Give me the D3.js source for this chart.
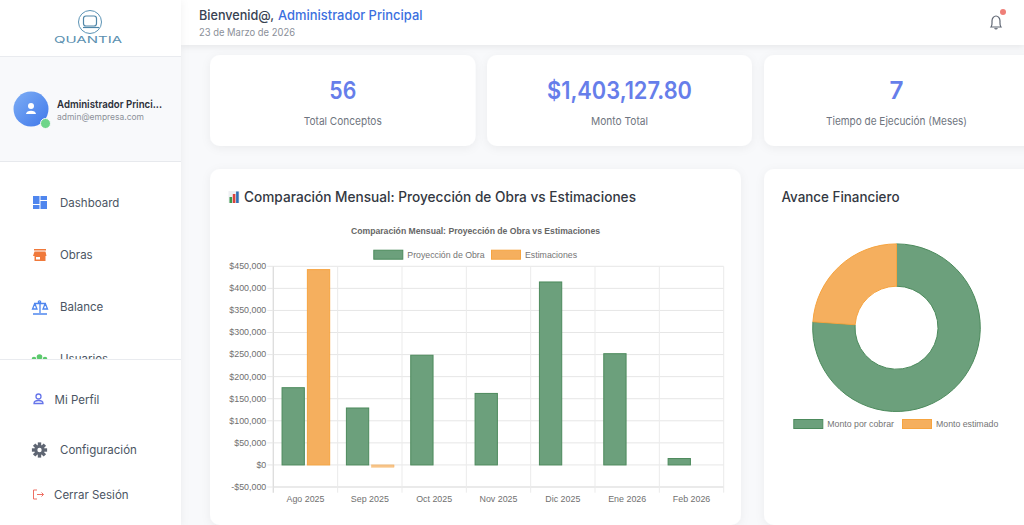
<!DOCTYPE html>
<html><head><meta charset="utf-8">
<script src="https://cdn.jsdelivr.net/npm/d3@7/dist/d3.min.js"></script>
<style>
html,body{margin:0;padding:0;width:1024px;height:525px;overflow:hidden;background:#f8f9fb}
svg{display:block}
text{font-family:Inter,"Noto Sans",sans-serif}
.cj text{font-family:"Liberation Sans",Arial,sans-serif}
</style></head><body>
<script>
const months=["Ago 2025","Sep 2025","Oct 2025","Nov 2025","Dic 2025","Ene 2026","Feb 2026"];
const seriesNames=["Proyección de Obra","Estimaciones"];
const proyeccion=[175000,129000,248500,162000,414500,252000,14500];
const estimaciones=[442500,-5000,null,null,null,null,null];
const yTicks=[-50000,0,50000,100000,150000,200000,250000,300000,350000,400000,450000];
const donutLabels=["Monto por cobrar","Monto estimado"];
const donutValues=[1403127.80,440000];
const statValues=["56","$1,403,127.80","7"];
const statLabels=["Total Conceptos","Monto Total","Tiempo de Ejecución (Meses)"];
const navItems=["Dashboard","Obras","Balance","Usuarios"];
const chartTitle="Comparación Mensual: Proyección de Obra vs Estimaciones";

const GREEN_F="#6ca07c",GREEN_S="#4c8a5c",ORANGE_F="#f5af5e",ORANGE_S="#f6a440";
const svg=d3.select("body").append("svg").attr("width",1024).attr("height",525);
const defs=svg.append("defs");
const sh=(id,dy,sd,op)=>{const f=defs.append("filter").attr("id",id).attr("x","-20%").attr("y","-30%").attr("width","140%").attr("height","170%");
 f.append("feDropShadow").attr("dx",0).attr("dy",dy).attr("stdDeviation",sd).attr("flood-color","#000").attr("flood-opacity",op);};
sh("card",2,5,.055);sh("hdr",2,3,.07);sh("side",1,4,.06);
const g=defs.append("linearGradient").attr("id","av").attr("x1",0).attr("y1",0).attr("x2",1).attr("y2",1);
g.append("stop").attr("offset",0).attr("stop-color","#7eaef5");g.append("stop").attr("offset",1).attr("stop-color","#3f78ea");

function T(p,x,y,s,size,fill,o={}){
 const t=p.append("text").attr("x",x).attr("y",y).attr("font-size",size).attr("fill",fill).text(s);
 if(o.anchor)t.attr("text-anchor",o.anchor);
 if(o.weight)t.attr("font-weight",o.weight);
 if(o.len)t.attr("textLength",o.len).attr("lengthAdjust","spacingAndGlyphs");
 return t;
}
svg.append("rect").attr("width",1024).attr("height",525).attr("fill","#f8f9fb");

// cards
const card=(x,y,w,h)=>svg.append("rect").attr("x",x).attr("y",y).attr("width",w).attr("height",h).attr("rx",10).attr("fill","#fff").attr("filter","url(#card)");
const statCards=[[210,265.5],[487,265],[764,290]];
const statLen=[27,145,14],labelLen=[78,57,141];
statCards.forEach((c,i)=>{card(c[0],55,c[1],91);
 const cx=i==2?896.5:c[0]+c[1]/2;
 T(svg,cx,99,statValues[i],24,"#667eea",{anchor:"middle",weight:600,len:statLen[i]});
 T(svg,cx,125,statLabels[i],11,"#6f7580",{anchor:"middle",len:labelLen[i]});
});
card(210,169,531,356);card(764,169,300,356);

// header
svg.append("rect").attr("x",181).attr("y",0).attr("width",843).attr("height",45).attr("fill","#fff").attr("filter","url(#hdr)");
T(svg,199,20,"Bienvenid@,",13,"#374151",{weight:500,len:75});
T(svg,278,20,"Administrador Principal",13,"#3b6fe0",{weight:500,len:144.5});
T(svg,199,36,"23 de Marzo de 2026",10,"#8b9099",{len:96});
const bell=svg.append("g").attr("transform","translate(996,22)");
bell.append("path").attr("d","M-5,5 C-3.5,3 -4,1 -4,-1 C-4,-4 -2,-6 0,-6 C2,-6 4,-4 4,-1 C4,1 3.5,3 5,5 Z").attr("fill","none").attr("stroke","#5f6673").attr("stroke-width",1.2);
bell.append("path").attr("d","M-1.3,6 A1.4,1.4 0 0 0 1.3,6").attr("fill","none").attr("stroke","#5f6673").attr("stroke-width",1.1);
svg.append("circle").attr("cx",1003).attr("cy",12).attr("r",3).attr("fill","#ef7f78");

// sidebar
svg.append("rect").attr("width",181).attr("height",525).attr("fill","#fff").attr("filter","url(#side)");
svg.append("rect").attr("y",57).attr("width",181).attr("height",104).attr("fill","#f8f9fb");
svg.append("line").attr("x1",0).attr("x2",181).attr("y1",56.5).attr("y2",56.5).attr("stroke","#e9ebef");
svg.append("line").attr("x1",0).attr("x2",181).attr("y1",161.5).attr("y2",161.5).attr("stroke","#e7e9ed");
const logo=svg.append("g");
logo.append("circle").attr("cx",90).attr("cy",22).attr("r",11.5).attr("fill","none").attr("stroke","#5b93b5").attr("stroke-width",1);
logo.append("rect").attr("x",83.5).attr("y",16).attr("width",13).attr("height",10).attr("rx",2.5).attr("fill","none").attr("stroke","#4f86a8").attr("stroke-width",1.2);
logo.append("path").attr("d","M83,27.5 H99").attr("stroke","#4f86a8").attr("stroke-width",1.2);
T(logo,88,43,"QUANTIA",8.5,"#5a8fb0",{anchor:"middle",len:68});
svg.append("circle").attr("cx",31).attr("cy",109).attr("r",17.5).attr("fill","url(#av)");
svg.append("circle").attr("cx",31).attr("cy",106).attr("r",3).attr("fill","#fff");
svg.append("path").attr("d","M26,114 C26,109.5 36,109.5 36,114 Z").attr("fill","#fff");
svg.append("circle").attr("cx",45.5).attr("cy",123.5).attr("r",5).attr("fill","#6fd58a").attr("stroke","#f8f9fb").attr("stroke-width",1);
T(svg,57,108,"Administrador Princi...",11,"#2b2f38",{weight:600,len:105});
T(svg,57,120,"admin@empresa.com",9,"#8b9099",{len:87});
const navY=[207,259,311,363];
navItems.forEach((t,i)=>T(svg,60,navY[i],t,11.5,"#4b5563"));
// nav icons
const db=svg.append("g").attr("fill","#4f86ee");
[[33,196,6.5,8],[40.5,196,6.5,4],[33,205,6.5,4],[40.5,201,6.5,8]].forEach(r=>db.append("rect").attr("x",r[0]).attr("y",r[1]).attr("width",r[2]).attr("height",r[3]));
const ob=svg.append("g").attr("fill","#f0793b");
ob.append("rect").attr("x",34).attr("y",249).attr("width",12).attr("height",1.5);
ob.append("path").attr("d","M34.5,251.5 H45.5 L46.5,256 H45.5 V261 H34.5 V256 H33 Z");
ob.append("rect").attr("x",36).attr("y",257).attr("width",4).attr("height",2.5).attr("fill","#fff");
const ba=svg.append("g").attr("fill","none").attr("stroke","#4f86ee").attr("stroke-width",1.3);
ba.append("path").attr("d","M40,302 V313 M33,314 H47 M34,303.5 H46 M34.5,304 L32.5,309 H37 L35,304 M45,304 L43,309 H47.5 L45.5,304");
ba.append("circle").attr("cx",39.5).attr("cy",302).attr("r",1.2);
const us=svg.append("g").attr("fill","#5bc96d");
[[34,359,2.3],[39.5,357,2.8],[45,359,2.3]].forEach(c=>us.append("circle").attr("cx",c[0]).attr("cy",c[1]).attr("r",c[2]));
// bottom section
svg.append("rect").attr("y",360).attr("width",181).attr("height",165).attr("fill","#fff");
svg.append("line").attr("x1",0).attr("x2",181).attr("y1",359.5).attr("y2",359.5).attr("stroke","#e9ebef");
T(svg,54.5,404,"Mi Perfil",11.5,"#4b5563");
T(svg,60,454,"Configuración",11.5,"#4b5563");
T(svg,54,499,"Cerrar Sesión",11.5,"#4b5563");
const pf=svg.append("g").attr("fill","none").attr("stroke","#6675ea").attr("stroke-width",1.3);
pf.append("circle").attr("cx",38.5).attr("cy",396.5).attr("r",2.5);
pf.append("path").attr("d","M34,403.5 C34,399.5 43,399.5 43,403.5 Z");
const gear=svg.append("g").attr("transform","translate(39.5,450)");
d3.range(8).forEach(i=>gear.append("rect").attr("x",-1.7).attr("y",-7.6).attr("width",3.4).attr("height",4).attr("fill","#5f6673").attr("transform",`rotate(${i*45})`));
gear.append("circle").attr("r",5).attr("fill","#5f6673");
gear.append("circle").attr("r",2.2).attr("fill","#fff");
svg.append("path").attr("d","M37,490 H33.5 V499 H37 M37,494.5 H43.5 M41.5,492.5 L43.5,494.5 L41.5,496.5").attr("fill","none").attr("stroke","#ee6f63").attr("stroke-width",1);

// card titles
const em=svg.append("g");
em.append("rect").attr("x",228.5).attr("y",191).attr("width",11).attr("height",12).attr("fill","#eef0f3");
[[229.5,197,2.6,"#3a9a4b"],[232.8,194,2.6,"#d9433d"],[236.1,191.5,2.6,"#2f6fb5"]].forEach(b=>em.append("rect").attr("x",b[0]).attr("y",b[1]).attr("width",b[2]).attr("height",203-b[1]).attr("fill",b[3]));
T(svg,244,202,chartTitle,14,"#333842",{weight:500,len:392});
T(svg,781.5,202,"Avance Financiero",14,"#333842",{weight:500,len:118});

// bar chart
const chart=svg.append("g").attr("class","cj");
const y=d3.scaleLinear().domain([-50000,450000]).range([487,266.3]);
const x0=d3.scaleBand().domain(months).range([273.3,723.7]);
const x1=d3.scaleBand().domain(seriesNames).range([0,x0.bandwidth()]).paddingInner(.08).paddingOuter(.31);
const fmt=v=>(v<0?"-$":"$")+d3.format(",")(Math.abs(v));

// gridlines
const gridY=chart.append("g").attr("transform","translate(273.3,0)")
 .call(d3.axisRight(y).tickValues(yTicks).tickSize(450.4).tickFormat("").offset(0));
gridY.select(".domain").remove();
gridY.selectAll("line").attr("stroke","#e6e6e6").attr("stroke-width",1);
gridY.selectAll(".tick").filter(d=>d===-50000).select("line").attr("stroke","#e3e3e3").attr("stroke-width",1.6);
gridY.selectAll(".tick").filter(d=>d===0).select("line").attr("stroke","#ececec").attr("stroke-width",1.2);
const edges=months.map(m=>x0(m)).concat([x0.range()[1]]);
chart.append("g").selectAll("line").data(edges).join("line")
 .attr("x1",d=>d).attr("x2",d=>d).attr("y1",y(450000)).attr("y2",492.7)
 .attr("stroke",(d,i)=>i==0?"#dedede":"#ebebeb").attr("stroke-width",(d,i)=>i==0?1.4:1);

// bars
const barData=[{n:seriesNames[0],v:proyeccion,f:GREEN_F,s:GREEN_S},{n:seriesNames[1],v:estimaciones,f:ORANGE_F,s:ORANGE_S}];
barData.forEach(sr=>{
 chart.append("g").selectAll("rect").data(months.map((m,i)=>({m,v:sr.v[i]})).filter(d=>d.v!==null)).join("rect")
  .attr("x",d=>x0(d.m)+x1(sr.n)+.9).attr("width",x1.bandwidth()-1)
  .attr("y",d=>Math.min(y(d.v),y(0))).attr("height",d=>Math.abs(y(d.v)-y(0)))
  .attr("fill",sr.f).attr("stroke",sr.s).attr("stroke-width",d=>d.v<0?.4:1).attr("fill-opacity",d=>d.v<0?.7:1);
});

// axes
const ay=chart.append("g").attr("transform","translate(273.3,0)")
 .call(d3.axisLeft(y).tickValues(yTicks).tickSize(6).tickPadding(1).tickFormat(fmt).offset(0));
ay.select(".domain").remove();
ay.selectAll("line").attr("stroke","#e6e6e6");
ay.selectAll("text").attr("font-size",8.9).attr("fill","#707070").attr("font-family","Liberation Sans");
const ax=chart.append("g").attr("transform","translate(0,487)")
 .call(d3.axisBottom(x0).tickSize(0).tickPadding(9));
ax.select(".domain").remove();
ax.selectAll("text").attr("font-size",8.9).attr("fill","#707070").attr("font-family","Liberation Sans");

T(chart,475.5,233.5,chartTitle,9.5,"#666",{anchor:"middle",weight:700,len:249});

// legends
function legend(p,items){
 items.forEach(it=>{
  p.append("rect").attr("x",it.x+.5).attr("y",it.y-4.5).attr("width",29).attr("height",9).attr("fill",it.f).attr("stroke",it.s).attr("stroke-width",1);
  T(p,it.x+34,it.y+3.2,it.t,8.75,"#747474");
 });
}
legend(chart,[{x:373.3,y:254.7,t:seriesNames[0],f:GREEN_F,s:GREEN_S},{x:491,y:254.7,t:seriesNames[1],f:ORANGE_F,s:ORANGE_S}]);

// donut
const dg=svg.append("g").attr("class","cj").attr("transform","translate(896.5,327.7)");
const pie=d3.pie().sort(null).value(d=>d)(donutValues);
const arc=d3.arc().innerRadius(41.5).outerRadius(83.8);
const dF=[GREEN_F,ORANGE_F],dS=[GREEN_S,ORANGE_S];
dg.selectAll("path").data(pie).join("path").attr("d",arc).attr("fill",(d,i)=>dF[i]).attr("stroke",(d,i)=>dS[i]).attr("stroke-width",1);
const dl=svg.append("g").attr("class","cj");
legend(dl,[{x:793.3,y:424,t:donutLabels[0],f:GREEN_F,s:GREEN_S},{x:902,y:424,t:donutLabels[1],f:ORANGE_F,s:ORANGE_S}]);
</script>
</body></html>
